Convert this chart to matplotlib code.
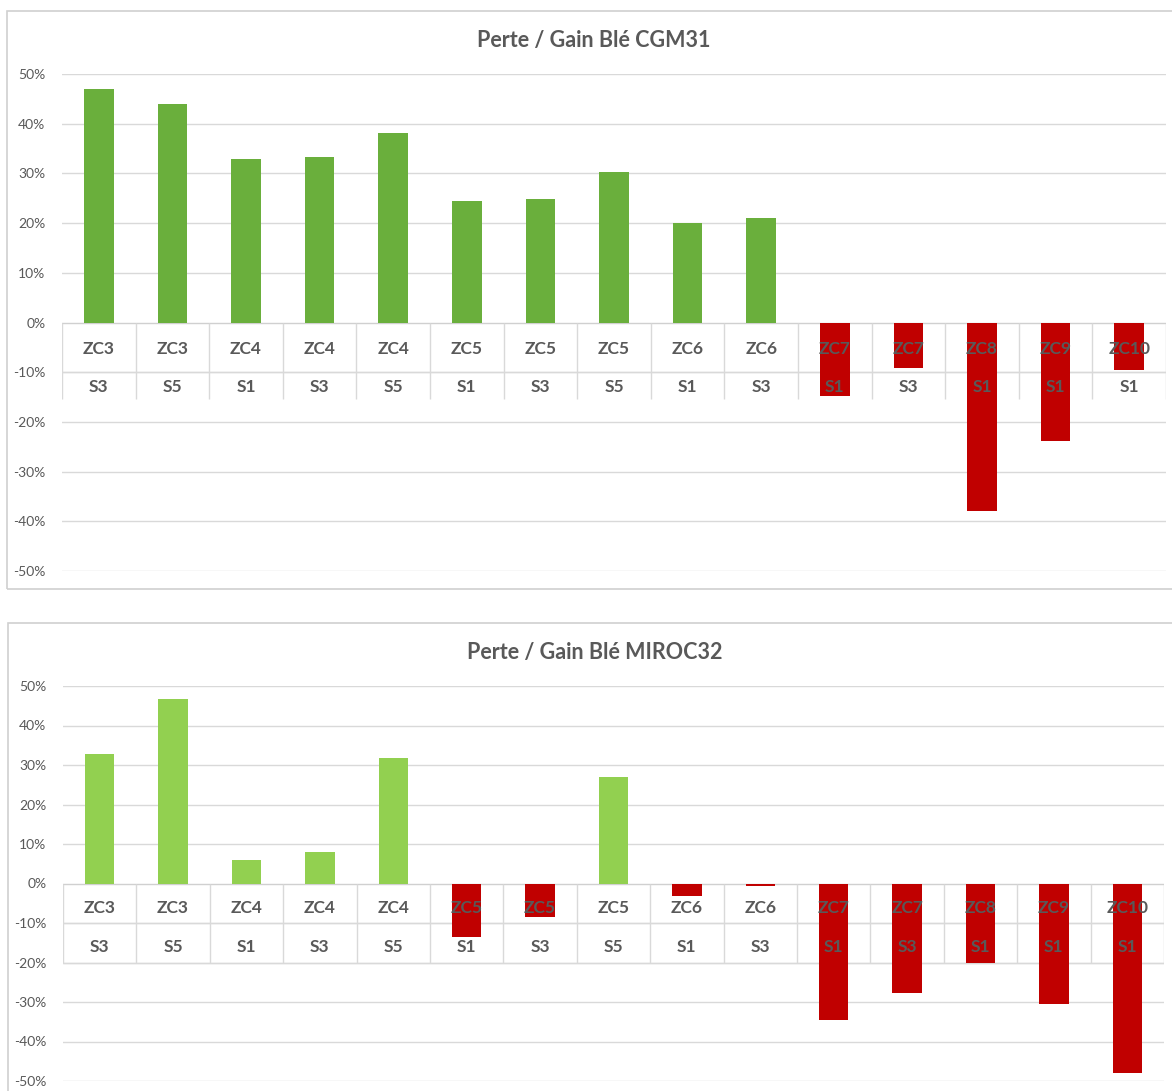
import matplotlib
matplotlib.use("Agg")
import matplotlib.pyplot as plt
from matplotlib.patches import Rectangle
import numpy as np

plt.rcParams['font.family'] = ['Lato', 'DejaVu Sans']

zones = ["ZC3", "ZC3", "ZC4", "ZC4", "ZC4", "ZC5", "ZC5", "ZC5", "ZC6", "ZC6",
         "ZC7", "ZC7", "ZC8", "ZC9", "ZC10"]
scen = ["S3", "S5", "S1", "S3", "S5", "S1", "S3", "S5", "S1", "S3",
        "S1", "S3", "S1", "S1", "S1"]

cgm31 = [46.9, 44.0, 32.9, 33.3, 38.2, 24.5, 24.9, 30.3, 20.1, 21.0,
         -14.7, -9.2, -37.9, -23.9, -9.6]
miroc32 = [32.7, 46.6, 5.9, 7.9, 31.8, -13.5, -8.4, 26.9, -3.2, -0.7,
           -34.5, -27.8, -20.0, -30.4, -47.9]

titles = ["Perte / Gain Blé CGM31", "Perte / Gain Blé MIROC32"]
pos_colors = ["#6AAF3C", "#92D050"]
neg_color = "#C00000"
yticks = [50, 40, 30, 20, 10, 0, -10, -20, -30, -40, -50]

W, H = 1172, 1091
fig = plt.figure(figsize=(W / 100, H / 100), dpi=100)
fig.patch.set_facecolor("white")

grid_c = "#D9D9D9"
txt_c = "#595959"

# chart-area frames (pixels: x0, y0top, x1, y1bottom)
frames = [(7, 11, 1180, 589), (8, 623, 1180, 1100)]
for (x0, yt, x1, yb) in frames:
    fig.add_artist(Rectangle((x0 / W, 1 - yb / H), (x1 - x0) / W, (yb - yt) / H,
                             transform=fig.transFigure, fill=False,
                             edgecolor="#D0D0D0", linewidth=1.2))

# axes placement in pixels: left, right, y(+50%), y(-50%)
places = [(62, 1166, 74, 571), (63, 1164, 686, 1081)]
title_xy = [(594, 40), (595, 652)]
# label table layout in data units (percent)
zc_y = [-5.3, -6.3]
s_y = [-13.0, -16.1]
row_sep = [-10.0, -10.0]
table_bottom = [-15.3, -20.0]

for k, vals in enumerate([cgm31, miroc32]):
    l, r, yt, yb = places[k]
    ax = fig.add_axes([l / W, 1 - yb / H, (r - l) / W, (yb - yt) / H])
    x = np.arange(len(vals))
    colors = [pos_colors[k] if v >= 0 else neg_color for v in vals]
    ax.bar(x, vals, width=0.4, color=colors, zorder=3)
    ax.set_xlim(-0.5, len(vals) - 0.5)
    ax.set_ylim(-50, 50)
    ax.set_yticks(yticks)
    ax.set_yticklabels([f"{t}%" for t in yticks], color=txt_c, fontsize=10)
    ax.tick_params(axis="y", length=0, pad=12)
    ax.set_xticks([])
    for sp in ax.spines.values():
        sp.set_visible(False)
    ax.set_facecolor("none")
    for t in yticks:
        ax.axhline(t, color=grid_c if t != 0 else "#D0D0D0", linewidth=1.0, zorder=1)
    # category table
    ax.hlines(row_sep[k], -0.5, len(vals) - 0.5, color=grid_c, linewidth=1.0, zorder=1)
    if k == 1:
        ax.hlines(table_bottom[k], -0.5, len(vals) - 0.5, color=grid_c, linewidth=1.0, zorder=1)
    for b in np.arange(-0.5, len(vals), 1.0):
        ax.vlines(b, table_bottom[k], 0, color=grid_c, linewidth=1.0, zorder=1)
    for i in range(len(vals)):
        ax.text(i, zc_y[k], zones[i], ha="center", va="center", color=txt_c,
                fontsize=12.5, fontweight="bold", zorder=5)
        ax.text(i, s_y[k], scen[i], ha="center", va="center", color=txt_c,
                fontsize=12.5, fontweight="bold", zorder=5)
    tx, ty = title_xy[k]
    fig.text(tx / W, 1 - ty / H, titles[k], ha="center", va="center",
             color=txt_c, fontsize=15.5, fontweight="bold")

fig.savefig("out.png", dpi=100, facecolor="white")
